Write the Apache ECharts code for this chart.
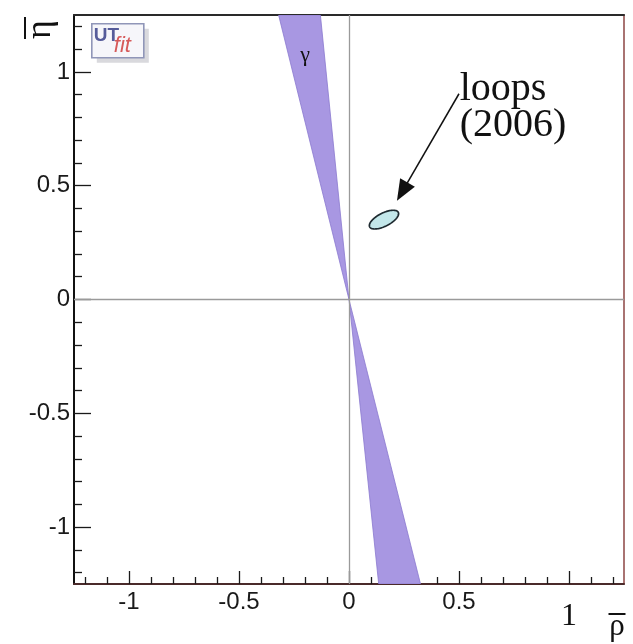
<!DOCTYPE html>
<html>
<head>
<meta charset="utf-8">
<script src="https://cdn.jsdelivr.net/npm/echarts@6/dist/echarts.min.js"></script>
<style>
  html, body { margin: 0; padding: 0; background: #ffffff; }
  #chart { width: 633px; height: 644px; }
</style>
</head>
<body>
<div id="chart"></div>
<script>
// Plane of the unitarity triangle apex: rho-bar horizontally, eta-bar vertically
const rhoRange = [-1.25, 1.25];
const etaRange = [-1.25, 1.25];

// Labelled ticks every 0.5, small ticks every 0.1
const majorTicks = [-1, -0.5, 0, 0.5, 1];
const minorTicks = [-1.2, -1.1, -0.9, -0.8, -0.7, -0.6, -0.4, -0.3, -0.2, -0.1,
                    0.1, 0.2, 0.3, 0.4, 0.6, 0.7, 0.8, 0.9, 1.1, 1.2];

// gamma constraint: two wedges meeting at the origin.
// Each entry: [rho of left edge, rho of right edge, eta where the wedge is cut]
const gammaWedges = [
  [-0.32, -0.13, 1.25],
  [0.135, 0.325, -1.25]
];
const gammaApex = [0, 0];

// "loops (2006)" allowed region: centre in (rho, eta)
const loopsCenter = [[0.159, 0.351]];
const loopsSemiAxes = [0.073, 0.030];   // along and across its tilt, in rho units
const loopsTiltDeg = 27;

// Annotation arrow: from the caption down to the loops region
const arrowFrom = [0.50, 0.904];
const arrowHead = [0.242, 0.474];

// Text annotations
const noteTexts = ['γ', 'loops\n(2006)'];
const notePositions = [[-0.2, 1.075], [0.503, 1.0]];

const chart = echarts.init(document.getElementById('chart'), null, { renderer: 'canvas' });

const labelFont = {
  fontFamily: '"Liberation Sans", Arial, Helvetica, sans-serif',
  fontSize: 24,
  color: '#1a1a1a'
};
const tickStyle = { color: '#1a1a1a', width: 1.3 };
const serif = '"Liberation Serif", "Times New Roman", "DejaVu Serif", serif';

const option = {
  backgroundColor: '#ffffff',
  animation: false,
  grid: { left: 74, right: 9, top: 15, bottom: 60, containLabel: false },
  xAxis: [
    { // tenth-unit ticks along the bottom edge
      type: 'value', position: 'bottom', min: rhoRange[0], max: rhoRange[1],
      axisLine: { show: true, onZero: false, lineStyle: { color: '#4a2a2a', width: 2 } },
      axisTick: { show: true, inside: true, length: 7, customValues: minorTicks, lineStyle: tickStyle },
      axisLabel: { show: false },
      splitLine: { show: false }
    },
    { // half-unit ticks with labels, and the axis title
      type: 'value', position: 'bottom', min: rhoRange[0], max: rhoRange[1],
      axisLine: { show: false, onZero: false },
      axisTick: { show: true, inside: true, length: 13, customValues: majorTicks, lineStyle: tickStyle },
      axisLabel: {
        show: true, margin: 6, customValues: majorTicks,
        ...labelFont,
        formatter: v => (v === 1 ? '{big|1}' : String(v)),
        rich: { big: { fontFamily: serif, fontSize: 32, color: '#111', padding: [11, 0, 0, 0] } }
      },
      splitLine: { show: false },
      name: '{bar|}\n{g|ρ}',
      nameLocation: 'end',
      nameGap: -7,
      nameMoveOverlap: false,
      nameTextStyle: {
        align: 'center', verticalAlign: 'top', padding: [29, 0, 0, 0],
        rich: {
          bar: { width: 17, height: 2, backgroundColor: '#111' },
          g: { fontFamily: serif, fontSize: 31, color: '#111', lineHeight: 24 }
        }
      }
    },
    { // upper frame edge
      type: 'value', position: 'top', min: rhoRange[0], max: rhoRange[1],
      axisLine: { show: true, onZero: false, lineStyle: { color: '#2a2a2a', width: 2 } },
      axisTick: { show: false }, axisLabel: { show: false }, splitLine: { show: false }
    }
  ],
  yAxis: [
    { // tenth-unit ticks along the left edge
      type: 'value', position: 'left', min: etaRange[0], max: etaRange[1],
      axisLine: { show: true, onZero: false, lineStyle: { color: '#111', width: 2 } },
      axisTick: { show: true, inside: true, length: 8, customValues: minorTicks, lineStyle: tickStyle },
      axisLabel: { show: false },
      splitLine: { show: false }
    },
    { // half-unit ticks with labels, and the axis title
      type: 'value', position: 'left', min: etaRange[0], max: etaRange[1],
      axisLine: { show: false, onZero: false },
      axisTick: { show: true, inside: true, length: 17, customValues: majorTicks, lineStyle: tickStyle },
      axisLabel: { show: true, margin: 4, customValues: majorTicks, ...labelFont },
      splitLine: { show: false },
      name: '{bar|}\n{g|η}',
      nameLocation: 'end',
      nameGap: -24,
      nameRotate: 90,
      nameMoveOverlap: false,
      nameTextStyle: {
        align: 'left', verticalAlign: 'bottom', padding: [0, 0, 18, 0],
        rich: {
          bar: { width: 22, height: 2, backgroundColor: '#111' },
          g: { fontFamily: serif, fontSize: 36, color: '#111', lineHeight: 30 }
        }
      }
    },
    { // right frame edge
      type: 'value', position: 'right', min: etaRange[0], max: etaRange[1],
      axisLine: { show: true, onZero: false, lineStyle: { color: '#94514f', width: 1.6 } },
      axisTick: { show: false }, axisLabel: { show: false }, splitLine: { show: false }
    }
  ],
  graphic: [
    { // UTfit badge in the upper-left corner
      type: 'group', left: 91, top: 23, z: 50,
      children: [
        { type: 'rect', shape: { x: 5, y: 5, width: 52, height: 34 }, style: { fill: '#d9d9dd' } },
        { type: 'rect', shape: { x: 0, y: 0, width: 52, height: 34 },
          style: { fill: '#f6f6fa', stroke: '#9096b8', lineWidth: 1.6 } },
        { type: 'text', x: 2, y: 2,
          style: { text: 'UT', fill: '#565c9a', font: 'bold 19px "Liberation Sans", Arial, sans-serif' } },
        { type: 'text', x: 22, y: 11,
          style: { text: 'fit', fill: '#d65a5a', font: 'italic 22px "Liberation Sans", Arial, sans-serif' } }
      ]
    }
  ],
  series: [
    { // zero lines through the origin
      name: 'origin', type: 'line', data: [], xAxisIndex: 0, yAxisIndex: 0, z: 1, silent: true,
      markLine: {
        silent: true, symbol: 'none', animation: false,
        label: { show: false },
        lineStyle: { color: '#9a9a9a', width: 1.3, type: 'solid' },
        data: [{ xAxis: 0 }, { yAxis: 0 }]
      }
    },
    { // gamma band
      name: 'gamma', type: 'custom', xAxisIndex: 0, yAxisIndex: 0, z: 2, clip: true, silent: true,
      data: gammaWedges,
      renderItem: (params, api) => {
        const w = gammaWedges[params.dataIndex];
        const pts = [[w[0], w[2]], [w[1], w[2]], gammaApex].map(p => api.coord(p));
        return {
          type: 'polygon', shape: { points: pts },
          style: { fill: '#a897e2', stroke: '#8a78cf', lineWidth: 0.8 }
        };
      }
    },
    { // loops (2006) region
      name: 'loops', type: 'custom', xAxisIndex: 0, yAxisIndex: 0, z: 3, clip: true, silent: true,
      data: loopsCenter,
      renderItem: (params, api) => {
        const c = api.coord([api.value(0), api.value(1)]);
        const unit = api.size([1, 1]);
        const a = loopsSemiAxes[0] * unit[0];
        const b = loopsSemiAxes[1] * unit[0];
        const th = loopsTiltDeg * Math.PI / 180;
        const pts = [];
        for (let k = 0; k < 96; k++) {
          const t = (k / 96) * 2 * Math.PI;
          const x = a * Math.cos(t), y = b * Math.sin(t);
          pts.push([c[0] + x * Math.cos(th) + y * Math.sin(th),
                    c[1] - x * Math.sin(th) + y * Math.cos(th)]);
        }
        return {
          type: 'polygon', shape: { points: pts },
          style: { fill: '#c3e7ea', stroke: '#1e2a30', lineWidth: 1.7 }
        };
      }
    },
    { // arrow pointing at the loops region
      name: 'arrow', type: 'line', data: [], xAxisIndex: 0, yAxisIndex: 0, z: 4, silent: true,
      markLine: {
        silent: true, animation: false,
        symbol: ['none', 'triangle'], symbolSize: [17, 21],
        label: { show: false },
        lineStyle: { color: '#111', width: 1.5, type: 'solid' },
        data: [[{ coord: arrowFrom }, { coord: arrowHead }]]
      }
    },
    { // captions
      name: 'notes', type: 'custom', xAxisIndex: 0, yAxisIndex: 0, z: 5, clip: false, silent: true,
      data: notePositions,
      renderItem: (params, api) => {
        const i = params.dataIndex;
        const p = api.coord([api.value(0), api.value(1)]);
        const big = i === 1;
        return {
          type: 'text', x: p[0], y: p[1],
          style: {
            text: noteTexts[i], fill: '#111',
            font: (big ? '40px ' : '22px ') + serif,
            align: big ? 'left' : 'center',
            verticalAlign: big ? 'top' : 'middle',
            lineHeight: big ? 36 : 22
          }
        };
      }
    }
  ]
};

chart.setOption(option);
</script>
</body>
</html>
